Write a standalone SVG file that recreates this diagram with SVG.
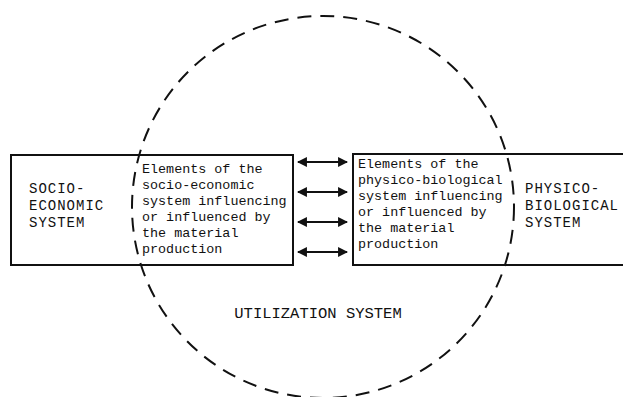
<svg xmlns="http://www.w3.org/2000/svg" width="623" height="397" viewBox="0 0 623 397">
<defs>
<style>
.box{fill:none;stroke:#111;stroke-width:2}
.circ{fill:none;stroke:#111;stroke-width:2;stroke-dasharray:14 9}
.lbl{font-family:"Liberation Mono","DejaVu Sans Mono",monospace;font-size:14px;letter-spacing:1px;fill:#111}
.ut{font-family:"Liberation Mono","DejaVu Sans Mono",monospace;font-size:15.5px;fill:#111}
.txt{font-family:"Liberation Mono","DejaVu Sans Mono",monospace;font-size:13.4px;fill:#111}
.arr{stroke:#111;stroke-width:2.2;marker-start:url(#ah);marker-end:url(#ah)}
</style>
<marker id="ah" viewBox="0 0 10 10" refX="9" refY="5" markerWidth="5" markerHeight="4.5" orient="auto-start-reverse" markerUnits="strokeWidth">
<path d="M0,0 L10,5 L0,10 z" fill="#111"/>
</marker>
</defs>
<rect width="623" height="397" fill="#fff"/>
<g id="utilization">
<ellipse class="circ" cx="323" cy="207" rx="191" ry="191"/>
<text class="ut" x="318" y="318" text-anchor="middle">UTILIZATION SYSTEM</text>
</g>
<g id="socio">
<rect class="box" x="11" y="155" width="282" height="110"/>
<text class="lbl" x="29" y="193">SOCIO-</text>
<text class="lbl" x="29" y="210">ECONOMIC</text>
<text class="lbl" x="29" y="227">SYSTEM</text>
<text class="txt" x="142" y="173">Elements of the</text>
<text class="txt" x="142" y="189">socio-economic</text>
<text class="txt" x="142" y="205">system influencing</text>
<text class="txt" x="142" y="221">or influenced by</text>
<text class="txt" x="142" y="237">the material</text>
<text class="txt" x="142" y="253">production</text>
</g>
<g id="physico">
<rect class="box" x="353" y="154" width="280" height="111"/>
<text class="lbl" x="525" y="193">PHYSICO-</text>
<text class="lbl" x="525" y="210">BIOLOGICAL</text>
<text class="lbl" x="525" y="227">SYSTEM</text>
<text class="txt" x="358" y="168">Elements of the</text>
<text class="txt" x="358" y="184">physico-biological</text>
<text class="txt" x="358" y="200">system influencing</text>
<text class="txt" x="358" y="216">or influenced by</text>
<text class="txt" x="358" y="232">the material</text>
<text class="txt" x="358" y="248">production</text>
</g>
<g id="connectors">
<line class="arr" x1="298" y1="162" x2="347" y2="162"/>
<line class="arr" x1="298" y1="192" x2="347" y2="192"/>
<line class="arr" x1="298" y1="222" x2="347" y2="222"/>
<line class="arr" x1="298" y1="252" x2="347" y2="252"/>
</g>
</svg>
